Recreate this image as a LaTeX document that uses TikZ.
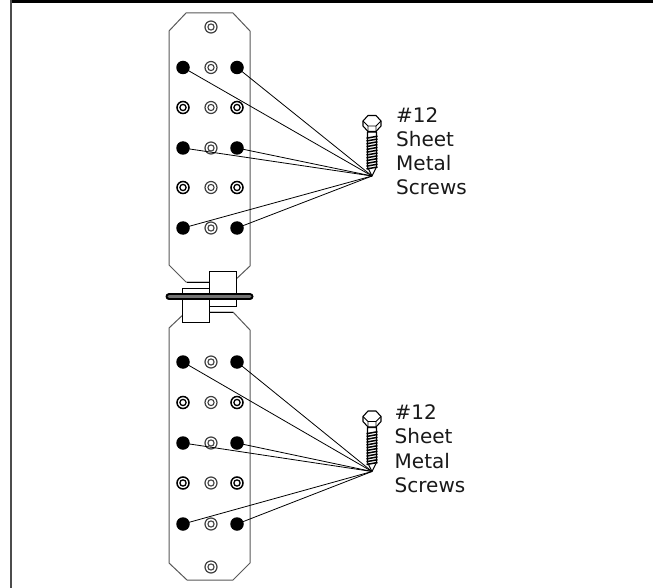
\documentclass[tikz,border=0pt]{standalone}
\usepackage{fontspec}
\setmainfont{DejaVu Sans}
\tikzset{
  plate/.style={draw=black!65,line width=1pt,fill=white},
  part/.style={draw=black,line width=0.9pt,fill=white},
  blackhole/.style={circle,fill=black,draw=none,minimum size=13.5pt,inner sep=0pt},
  ringhole/.style={circle,draw=black!75,fill=white,line width=1.2pt,minimum size=12pt,inner sep=0pt,
    path picture={\draw[black!75,line width=1.1pt] (path picture bounding box.center) circle (3.1pt);}},
  darkring/.style={circle,draw=black,fill=white,line width=1.5pt,minimum size=12pt,inner sep=0pt,
    path picture={\draw[black,line width=1.3pt] (path picture bounding box.center) circle (3.1pt);}},
  wire/.style={draw=black,line width=0.8pt},
  lab/.style={anchor=base west,align=left,inner sep=0pt,text=black!90},
  thread/.style={draw=black,line width=1.5pt},
  screwline/.style={draw=black,line width=1.1pt,fill=white,line join=round}
}
\begin{document}
\begin{tikzpicture}[x=1pt,y=-1pt]
\useasboundingbox (0,0) rectangle (653,588);
\fill[white] (0,0) rectangle (653,588);
\fill[black] (10,0) rectangle (653,3);
\draw[black!70,line width=2pt] (11,0) -- (11,588);
% plates
\draw[plate] (186,13) -- (233,13) -- (250,31) -- (250,266) -- (233,282) -- (186,282) -- (169,265) -- (169,31) -- cycle;
\draw[plate] (186,312) -- (233,312) -- (250,330) -- (250,563) -- (233,580) -- (187,580) -- (169,563) -- (169,328) -- cycle;
% hinge
\fill[white] (182,283) rectangle (250,311);
\draw[part] (182,288) rectangle (209.5,322);
\draw[part] (209.5,271.5) rectangle (236.7,306);
\draw[part] (187,282) -- (209.5,282);
\draw[part] (209.5,312) -- (233,312);
\draw[draw=black,line width=7pt,line cap=round] (169,296.7) -- (250,296.7);
\draw[draw=black!55,line width=3pt,line cap=round] (169,296.7) -- (250,296.7);
% holes top
\node[ringhole] (ta) at (211,27) {};
\foreach \n/\y in {b/67.5,d/148,f/228}{
  \node[blackhole] (t\n l) at (183,\y) {};
  \node[ringhole] (t\n c) at (211,\y) {};
  \node[blackhole] (t\n r) at (237,\y) {};
}
\foreach \n/\y in {c/107.5,e/187.5}{
  \node[darkring] (t\n l) at (183,\y) {};
  \node[ringhole] (t\n c) at (211,\y) {};
  \node[darkring] (t\n r) at (237,\y) {};
}
% holes bottom
\foreach \n/\y in {b/362,d/443,f/524}{
  \node[blackhole] (b\n l) at (183,\y) {};
  \node[ringhole] (b\n c) at (211,\y) {};
  \node[blackhole] (b\n r) at (237,\y) {};
}
\foreach \n/\y in {c/402.5,e/483}{
  \node[darkring] (b\n l) at (183,\y) {};
  \node[ringhole] (b\n c) at (211,\y) {};
  \node[darkring] (b\n r) at (237,\y) {};
}
\node[ringhole] (ba) at (211,567) {};
% tips
\coordinate (tiptop) at (372,176);
\coordinate (tipbot) at (372,471.5);
\foreach \h in {tbl,tbr,tdl,tdr,tfl,tfr}{ \draw[wire] (\h.center) -- (tiptop); }
\foreach \h in {bbl,bbr,bdl,bdr,bfl,bfr}{ \draw[wire] (\h.center) -- (tipbot); }
% screws
\foreach \x/\y in {372/176,372/471.5}{
\begin{scope}[shift={(\x,\y)}]
  \draw[screwline] (-4.5,-44) -- (-4.5,-9) -- (0,0) -- (4.5,-9) -- (4.5,-44) -- cycle;
  \foreach \k in {0,...,11}{
    \draw[thread] (-5.5,{-7-\k*2.8}) -- (5.5,{-9-\k*2.8});
  }
  \draw[screwline] (-9,-55) -- (-4,-60.5) -- (4,-60.5) -- (9,-55) -- (9,-50) -- (4,-44.5) -- (-4,-44.5) -- (-9,-50) -- cycle;
  \draw[draw=black,line width=0.9pt] (-9,-55) -- (-4,-50) -- (4,-50) -- (9,-55) (-4,-50) -- (-4,-44.5) (4,-50) -- (4,-44.5);
\end{scope}}
% labels
\node[lab,font=\fontsize{20}{24}\selectfont] (l1) at (396,194.5) {\#12\\Sheet\\Metal\\Screws};
\node[lab,font=\fontsize{20}{24.5}\selectfont] (l2) at (394.5,492.5) {\#12\\Sheet\\Metal\\Screws};
\end{tikzpicture}
\end{document}
